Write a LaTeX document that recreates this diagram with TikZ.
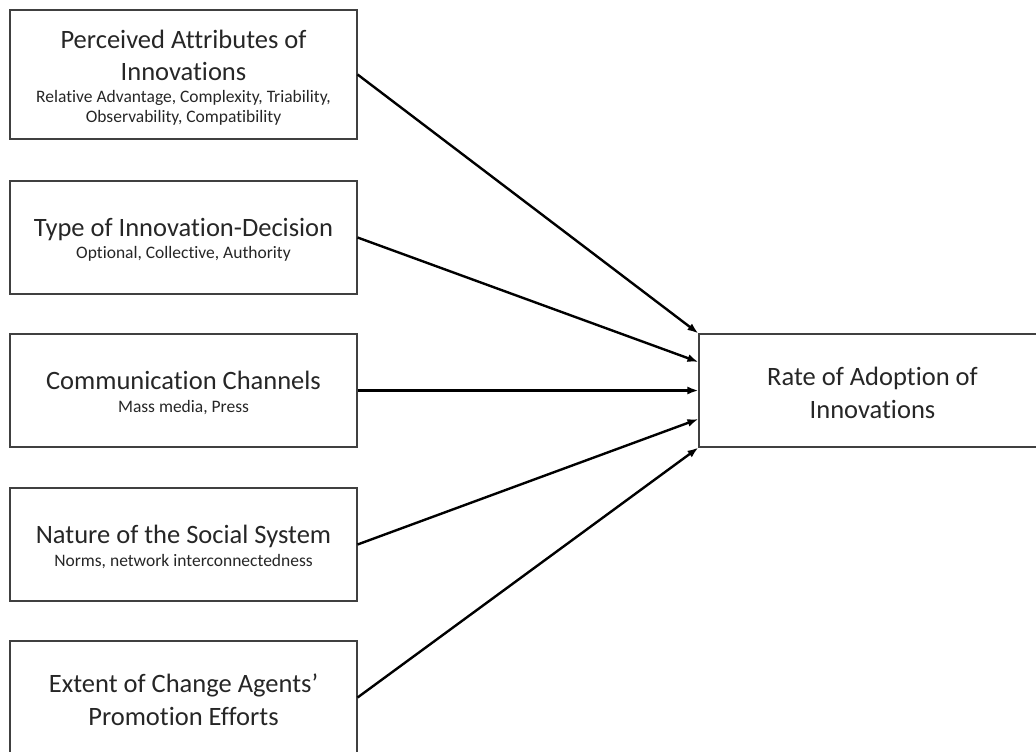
\documentclass[tikz,border=0pt]{standalone}
\usepackage{fontspec}
\setmainfont{Carlito}[Ligatures={TeX,NoCommon}]
\usetikzlibrary{calc,arrows.meta}

\begin{document}
\begin{tikzpicture}[x=1pt, y=-1pt,
            box/.style={draw=black!75, line width=1.1pt, minimum width=347pt,
                minimum height=113pt, inner sep=0, align=center,
                text=black!85, font=\fontsize{26.5}{32.5}\selectfont},
            arrow/.style={-{Latex[length=11pt, width=8pt]}, line width=2.4pt}]
        \useasboundingbox (0,0) rectangle (1036,752);

        \node (attr) [box, minimum height=129pt] at (183.5,74.5)
            {\rule{0pt}{25pt}Perceived Attributes of\\Innovations\\[-11pt]
             {\fontsize{17.5}{19.5}\selectfont Relative Advantage, Complexity, Triability,}\\[-12pt]
             {\fontsize{17.5}{19.5}\selectfont Observability, Compatibility}};
        \node (type) [box] at (183.5,237.5)
            {\rule{0pt}{23pt}Type of Innovation-Decision\\[-10pt]
             {\fontsize{17.5}{19.5}\selectfont Optional, Collective, Authority}};
        \node (chan) [box] at (183.5,390.5)
            {\rule{0pt}{23pt}Communication Channels\\[-10pt]
             {\fontsize{17.5}{19.5}\selectfont Mass media, Press}};
        \node (soc)  [box] at (183.5,544.5)
            {\rule{0pt}{23pt}Nature of the Social System\\[-10pt]
             {\fontsize{17.5}{19.5}\selectfont Norms, network interconnectedness}};
        \node (agent) [box] at (183.5,697.5)
            {\rule{0pt}{23pt}Extent of Change Agents'\\Promotion Efforts};

        \node (rate) [box] at (872.5,390.5)
            {\rule{0pt}{23pt}Rate of Adoption of\\Innovations};

        \coordinate (t1) at (rate.north west);
        \coordinate (t2) at ($(rate.north west)!.25!(rate.south west)$);
        \coordinate (t3) at (rate.west);
        \coordinate (t4) at ($(rate.north west)!.75!(rate.south west)$);
        \coordinate (t5) at (rate.south west);

        \draw [arrow] (attr.east)  -- (t1);
        \draw [arrow] (type.east)  -- (t2);
        \draw [arrow] (chan.east)  -- (t3);
        \draw [arrow] (soc.east)   -- (t4);
        \draw [arrow] (agent.east) -- (t5);
    \end{tikzpicture}
\end{document}
